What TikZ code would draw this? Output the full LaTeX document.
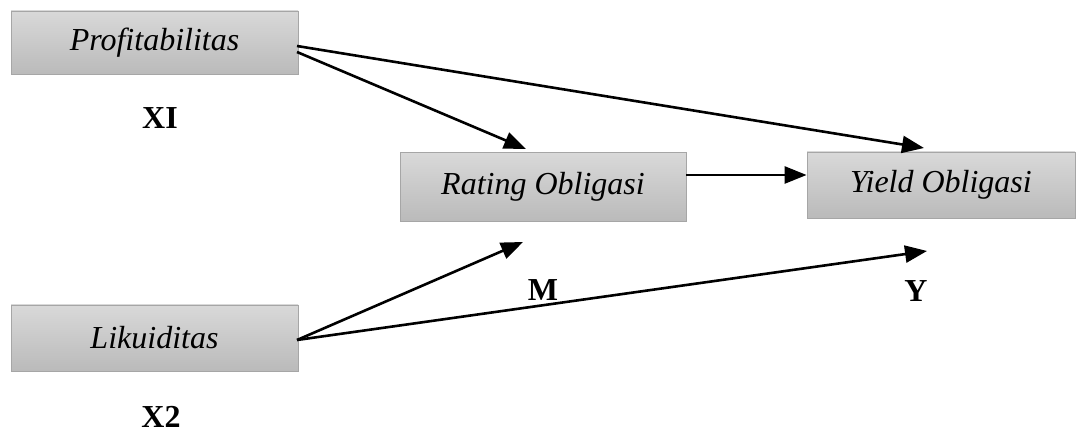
\documentclass[tikz,border=0pt]{standalone}
\usepackage{fontspec}
\setmainfont{Liberation Serif}
\usetikzlibrary{arrows.meta}
\begin{document}
\begin{tikzpicture}[x=1pt,y=-1pt,
  varbox/.style={draw=black!35, line width=0.8pt, top color=black!15, bottom color=black!27,
    inner sep=0pt, font=\fontsize{32}{36}\selectfont\itshape},
  tag/.style={font=\fontsize{32}{36}\selectfont\bfseries, inner sep=0pt},
  link/.style={line width=2.6pt, -{Triangle[length=22pt,width=17pt]}}]
\useasboundingbox (0,0) rectangle (1076,435);
\fill[white] (0,0) rectangle (1076,435);

% variables
\node[varbox, minimum width=287pt, minimum height=63pt] (prof) at (154.5,42.5) {Profitabilitas};
\node[varbox, minimum width=286pt, minimum height=69pt] (rating) at (543,187) {Rating Obligasi};
\node[varbox, minimum width=268pt, minimum height=66pt] (yield) at (941,185) {Yield Obligasi};
\node[varbox, minimum width=287pt, minimum height=66pt] (liku) at (154.5,338) {Likuiditas};

% variable symbols
\node[tag] (x1) at (160,118) {XI};
\node[tag] (m) at (543,290) {M};
\node[tag] (y) at (916,291) {Y};
\node[tag] (x2) at (161,417) {X2};

% connector end points
\coordinate (p1) at (297,46);
\coordinate (p2) at (297,52);
\coordinate (tipY1) at (924,148);
\coordinate (tipR1) at (526,149);
\coordinate (r1) at (rating.east |- 0,175);
\coordinate (y1) at (yield.west |- 0,175);
\coordinate (l1) at (297,340);
\coordinate (tipR2) at (523,242);
\coordinate (tipY2) at (927,251);

% paths
\draw[link] (p1) -- (tipY1);
\draw[link] (p2) -- (tipR1);
\draw[link] (r1) -- (y1);
\draw[link] (l1) -- (tipR2);
\draw[link] (l1) -- (tipY2);
\end{tikzpicture}
\end{document}
